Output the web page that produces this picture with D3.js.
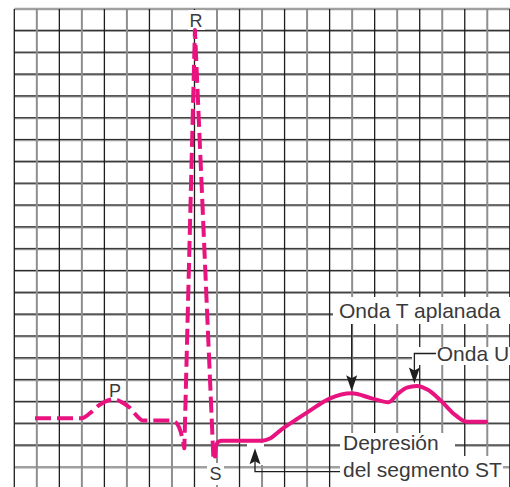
<!DOCTYPE html>
<html><head><meta charset="utf-8">
<script src="https://cdn.jsdelivr.net/npm/d3@7"></script>
<style>html,body{margin:0;padding:0;background:#fff;} svg{display:block;}</style>
</head><body>
<svg id="c" width="510" height="487"></svg>
<script>
// ---- data (grid units: x = small squares of time, y = small squares of amplitude) ----
const gridCols = d3.range(0, 23);
const gridRows = d3.range(0, 22);

// P wave + PR segment + Q (dashed, smooth)
const pWaveX = [0.92, 2.99, 3.36, 3.72, 4.03, 4.40, 4.83, 5.14, 5.40, 5.73, 6.91, 7.18, 7.31, 7.45, 7.55];
const pWaveY = [2.25, 2.25, 2.48, 2.81, 3.01, 3.12, 2.95, 2.72, 2.40, 2.14, 2.14, 2.05, 1.85, 1.39, 0.87];
// R peak and S trough (dashed, straight strokes)
const qrsX = [8.02, 8.84];
const qrsY = [20.04, 0.41];
// ST segment, T wave and U wave (solid)
const stX = [8.91, 8.96, 9.07, 9.22, 10.99, 11.35, 11.87, 12.61, 13.06, 14.02, 14.98, 15.87, 16.61, 17.05, 17.43, 17.87, 18.38, 18.98, 19.57, 20.09, 20.95];
const stY = [0.49, 0.98, 1.18, 1.22, 1.22, 1.32, 1.74, 2.25, 2.55, 3.16, 3.39, 3.16, 2.98, 3.39, 3.65, 3.73, 3.54, 3.01, 2.40, 2.09, 2.09];

const waveLabels = ["P", "R", "S"];
const annotTexts = ["Onda T aplanada", "Onda U", "Depresión", "del segmento ST"];

// ---- drawing ----
const W = 510, H = 487;
const svg = d3.select("#c");
svg.append("rect").attr("width", W).attr("height", H).attr("fill", "#fff");

const x = d3.scaleLinear().domain([0, 22]).range([14.3, 509.8]);
const y = d3.scaleLinear().domain([0, 21]).range([467.3, 9]);

const MAG = "#e8137f";
const INK = "#1e1e1e";
const FONT = "'Liberation Sans', Arial, Helvetica, sans-serif";

// grid
const g = svg.append("g");
gridRows.forEach(j => {
  g.append("line").attr("x1", x(0)).attr("x2", W).attr("y1", y(j)).attr("y2", y(j))
    .attr("stroke", "#a0a0a0").attr("stroke-width", 2.4);
});
gridRows.forEach(j => {
  if (j === 0 || j === 21) return;
  g.append("line").attr("x1", x(0)).attr("x2", W).attr("y1", y(j) - 0.4).attr("y2", y(j) - 0.4)
    .attr("stroke", "#2a2a2a").attr("stroke-width", 1);
});
gridCols.forEach(i => {
  const odd = i % 2 === 1;
  g.append("line").attr("x1", x(i)).attr("x2", x(i)).attr("y1", y(21)).attr("y2", H)
    .attr("stroke", odd ? "#8e8e8e" : "#1e1e1e").attr("stroke-width", odd ? 2 : 1.3);
});

// white label backgrounds
const boxes = [
  [188, 10, 17, 20], [106, 381, 18, 17], [207, 463, 17, 22],
  [333, 297, 177, 27], [412, 347, 98, 18],
  [340, 433, 115, 23], [340, 456, 163, 31], [247, 443, 17, 22]
];
svg.append("g").selectAll("rect").data(boxes).join("rect")
  .attr("x", d => d[0]).attr("y", d => d[1]).attr("width", d => d[2]).attr("height", d => d[3])
  .attr("fill", "#fff");

// ECG trace
const smooth = d3.line().x(d => x(d[0])).y(d => y(d[1])).curve(d3.curveMonotoneX);
const pPts = pWaveX.map((v, i) => [v, pWaveY[i]]);
let dashedD = smooth(pPts);
qrsX.forEach((v, i) => { dashedD += "L" + x(v) + "," + y(qrsY[i]); });
svg.append("path").attr("d", dashedD).attr("fill", "none").attr("stroke", MAG)
  .attr("stroke-width", 4).attr("stroke-dasharray", "16,6").attr("stroke-linejoin", "round");

const sPts = stX.map((v, i) => [v, stY[i]]);
svg.append("path").attr("d", smooth(sPts)).attr("fill", "none").attr("stroke", MAG)
  .attr("stroke-width", 4).attr("stroke-linejoin", "round").attr("stroke-linecap", "round");

// annotation arrows
const ann = svg.append("g");
function head(xt, yt, dir) { // dir 1 = pointing down, -1 = up
  const L = 16, hw = 5.5;
  ann.append("path").attr("d", `M${xt},${yt}L${xt - hw},${yt - dir * L}L${xt},${yt - dir * (L - 3)}L${xt + hw},${yt - dir * L}Z`)
    .attr("fill", INK);
}
// Onda T aplanada
const tX = x(stX[10]), tY = y(stY[10]) - 2;
ann.append("path").attr("d", `M${tX},324V${tY - 12}`).attr("stroke", INK).attr("stroke-width", 1.3).attr("fill", "none");
head(tX, tY, 1);
// Onda U
const uX = x(stX[15]) - 2.4, uY = y(stY[15]) - 2.5;
ann.append("path").attr("d", `M436,353.5H${uX}V${uY - 12}`).attr("stroke", INK).attr("stroke-width", 1.3).attr("fill", "none");
head(uX, uY, 1);
// Depresion del segmento ST
const dX = 255, dY = y(stY[4]) + 7.5;
ann.append("path").attr("d", `M${dX},${dY + 12}V471.7H340`).attr("stroke", INK).attr("stroke-width", 1.3).attr("fill", "none");
head(dX, dY, -1);

// texts
const txt = svg.append("g").attr("font-family", FONT).attr("fill", "#3a3a3a");
txt.append("text").attr("x", 115).attr("y", 397).attr("font-size", 18).attr("text-anchor", "middle").text(waveLabels[0]);
txt.append("text").attr("x", 196).attr("y", 26.5).attr("font-size", 18).attr("text-anchor", "middle").text(waveLabels[1]);
txt.append("text").attr("x", 215.5).attr("y", 480).attr("font-size", 18).attr("text-anchor", "middle").text(waveLabels[2]);
txt.append("text").attr("x", 339).attr("y", 317.7).attr("font-size", 21).text(annotTexts[0]);
txt.append("text").attr("x", 436.7).attr("y", 361).attr("font-size", 21).text(annotTexts[1]);
txt.append("text").attr("x", 343).attr("y", 449.5).attr("font-size", 21).text(annotTexts[2]);
txt.append("text").attr("x", 343).attr("y", 476.5).attr("font-size", 21).text(annotTexts[3]);
</script></body></html>
